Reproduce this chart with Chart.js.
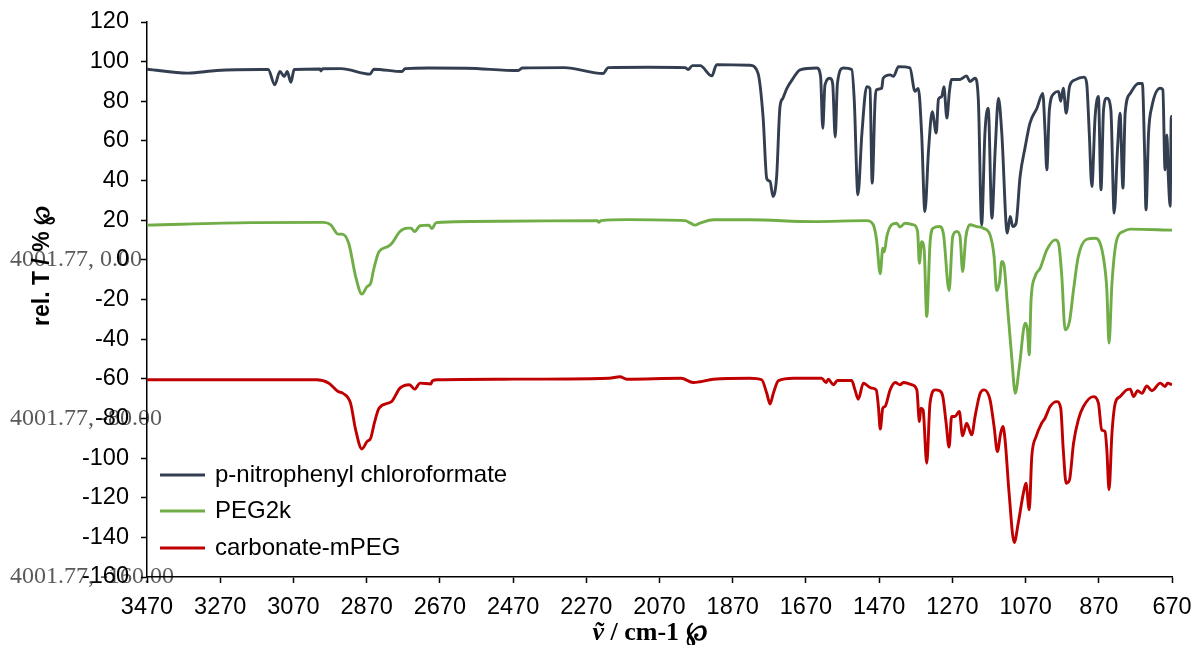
<!DOCTYPE html>
<html>
<head>
<meta charset="utf-8">
<script src="https://cdn.jsdelivr.net/npm/chart.js@4"></script>
<style>
html,body{margin:0;padding:0;background:#fff;}
</style>
</head>
<body>
<canvas id="myChart" width="1193" height="645"></canvas>
<script>
// 系列名稱與顏色
var seriesNames = ["p-nitrophenyl chloroformate", "PEG2k", "carbonate-mPEG"];
var seriesColors = ["#333f50", "#70ad47", "#c00000"];

// x 軸刻度 (cm-1)，y 軸範圍
var xTickValues = [3470, 3270, 3070, 2870, 2670, 2470, 2270, 2070, 1870, 1670, 1470, 1270, 1070, 870, 670];
var yMin = -160, yMax = 120, yStep = 20;

// 圖上殘留的資料標籤 (4001.77, ...)
var strayX = 4001.77;
var strayY = [0, -80, -160];

// p-nitrophenyl chloroformate
var navyWn = [3470,3358,3280,3160,3139,3121,3107,3095,3087,3077,3068,2997,2995,2990,2940,2861,2850,2773,2765,2700,2598,2456,2445,2330,2224,2210,2100,2000,1992,1980,1959,1927,1914,1823,1801,1787,1777,1768,1760,1750,1741,1733,1722,1705,1686,1640,1630,1624,1618,1604,1597,1590,1584,1568,1545,1538,1528,1517,1504,1495,1489,1481,1477,1463,1459,1440,1431,1417,1386,1372,1363,1354,1345,1335,1325,1314,1308,1299,1293,1285,1278,1272,1249,1231,1222,1208,1199,1190,1181,1172,1162,1153,1144,1135,1120,1112,1105,1096,1085,1071,1058,1039,1023,1017,1012,1005,992,980,974,967,959,950,935,910,903,896,889,880,871,864,857,848,837,828,819,812,804,798,784,762,751,745,741,734,725,702,695,689,684,680,675,672,670];
var navyT = [96.2,94.2,95.5,96,96,88.3,95,92.5,95,89.6,96,96.3,95.3,96.4,96.5,93.7,96.2,95,96.5,96.8,96.7,95.5,96.8,97,94,97,97.2,97,96,98,98,92.8,98.5,98.2,94.2,72,41,39.6,32,42,77,81.5,86.5,91.6,95.9,96.8,92.6,66.4,88.3,91.6,89,62,89,96.8,96,80.7,32.8,64,87.4,86.5,38.7,80.7,85.8,86.6,91.6,93.3,92.6,97.5,96.8,85,86.5,64,24.4,55.5,74.8,64,81,82.4,87.4,71.5,85,91,91,92.8,90,91.6,80.7,17.7,64,76.5,21,55.5,81.6,64,13.5,21.9,16.8,18.5,42,57,69,76.5,84,65.6,45.4,75.7,84,85,80,86.6,74,87.4,90.8,92.2,89,64,37,72.3,82.4,35.3,75.7,81.6,75.7,23.6,55.5,74,36.2,74,84,89,89,55.5,25.2,64,77.3,86.6,85.8,45.4,63,42,27,72.3,72];

// PEG2k
var greenWn = [3470,3183,2988,2968,2948,2937,2919,2900,2883,2869,2859,2851,2836,2812,2801,2779,2758,2749,2739,2724,2700,2692,2680,2500,2240,2236,2230,2159,2000,1985,1973,1959,1923,1823,1650,1504,1486,1477,1467,1460,1456,1449,1436,1422,1413,1399,1376,1365,1360,1354,1347,1340,1331,1322,1305,1294,1279,1269,1258,1249,1242,1233,1222,1203,1185,1167,1156,1149,1141,1135,1129,1120,1108,1098,1087,1071,1065,1060,1055,1044,1030,1012,989,980,971,962,950,939,926,903,880,871,857,848,842,834,821,803,784,670];
var greenT = [17.5,18.8,18.9,17.7,13,13,8.4,-8.4,-17.3,-13.5,-11.8,-5,4.2,6.7,8.4,14.3,16,16,14.3,17.2,17.5,15.8,18.8,19.5,19.8,19,19.8,20.3,19.8,18.5,17.5,18.5,20.2,20.2,19.3,19.8,17.7,10,-7,5.9,4,11.8,17.7,18.5,16.5,18.5,17.7,14.3,-1.7,9.2,5,-28.6,8.4,16,16.8,12.6,-15.5,11.8,14.3,11.8,-5.9,11.8,17.7,16.8,16,12.6,1.7,-15.5,-11,-0.8,-2.5,-21.9,-48.8,-67.3,-53.8,-32,-35,-47.9,-20.2,-8.4,-4.2,5,10.1,8.4,-8.4,-35.3,-31.1,-15.1,1.7,10.4,10.9,10.1,0.8,-15.1,-42,-11.8,10.1,14.3,15.5,15];

// carbonate-mPEG
var redWn = [3470,3183,3007,2973,2948,2935,2914,2900,2883,2869,2859,2849,2836,2802,2779,2753,2739,2724,2695,2690,2675,2500,2208,2178,2159,2011,1978,1959,1923,1823,1791,1777,1768,1759,1745,1704,1627,1615,1609,1595,1584,1545,1536,1527,1513,1499,1490,1478,1472,1467,1460,1454,1440,1426,1413,1404,1381,1367,1360,1356,1350,1340,1331,1317,1305,1296,1287,1279,1272,1263,1251,1242,1231,1217,1208,1194,1183,1167,1156,1147,1138,1132,1126,1115,1101,1090,1076,1069,1060,1053,1041,1026,1017,1003,985,974,967,959,950,939,926,912,885,871,862,853,848,842,834,825,812,794,784,775,764,752,739,725,702,689,682,670];
var redT = [-60.5,-60.5,-60.5,-62.2,-66.4,-67.3,-72.3,-85.8,-95.4,-91.7,-90,-82.4,-74.8,-71.5,-64.7,-63,-65.2,-62.2,-62.6,-61,-60.5,-60.2,-59.7,-59,-60.2,-59.7,-61.9,-61.5,-60.2,-59.7,-60.5,-67.3,-72.7,-67.3,-60.9,-59.7,-59.7,-61.9,-60.2,-63,-60.9,-60.9,-65.6,-70.3,-62.2,-63.9,-64.7,-65.6,-74,-85.4,-74.8,-74,-65.6,-61.9,-63,-61.9,-63,-65.6,-81.6,-74.8,-75.7,-102.6,-72.3,-65.6,-66,-69,-82.4,-94.5,-79,-79,-76.5,-88.8,-82.4,-88.3,-79,-67.3,-65.6,-70.6,-84.1,-96.7,-87.4,-84.1,-90.8,-117.7,-142.6,-132.8,-117.7,-112.7,-126.1,-99.2,-89.1,-82.4,-79.9,-74,-71.5,-74.8,-95.9,-112.7,-111,-92.5,-80.7,-74,-69,-72.3,-85.8,-86.6,-95.9,-116,-87.4,-72.3,-69,-65.6,-65.2,-69,-66,-67.3,-63.6,-66,-62.2,-63.9,-62.2,-63];

function toPoints(wn, t) {
  var pts = [];
  for (let i = 0; i < wn.length; i++) {
    pts.push({x: wn[i], y: t[i]});
  }
  return pts;
}

var allWn = [navyWn, greenWn, redWn];
var allT = [navyT, greenT, redT];

var datasets = [];
for (let i = 0; i < seriesNames.length; i++) {
  datasets.push({
    label: seriesNames[i],
    data: toPoints(allWn[i], allT[i]),
    borderColor: seriesColors[i],
    backgroundColor: seriesColors[i],
    borderWidth: 2.9,
    pointRadius: 0,
    fill: false,
    cubicInterpolationMode: 'monotone'
  });
}

var sansFont = "'Liberation Sans', Arial, sans-serif";
var serifFont = "'Liberation Serif', 'DejaVu Serif', 'Times New Roman', serif";

// 殘留標籤、圖例、軸標題
var extrasPlugin = {
  id: 'extras',
  beforeDraw: function(chart) {
    var ctx = chart.ctx;
    var yScale = chart.scales.y;
    ctx.save();
    ctx.font = '24px ' + serifFont;
    ctx.fillStyle = '#595959';
    ctx.textAlign = 'left';
    ctx.textBaseline = 'middle';
    for (let i = 0; i < strayY.length; i++) {
      ctx.fillText(strayX.toFixed(2) + ', ' + strayY[i].toFixed(2), 10, yScale.getPixelForValue(strayY[i]));
    }
    ctx.restore();
  },
  afterDraw: function(chart) {
    var ctx = chart.ctx;
    ctx.save();
    // 圖例
    ctx.font = '24px ' + sansFont;
    ctx.textAlign = 'left';
    ctx.textBaseline = 'middle';
    var rowY = [475, 511, 548];
    for (let i = 0; i < seriesNames.length; i++) {
      ctx.strokeStyle = seriesColors[i];
      ctx.lineWidth = 3;
      ctx.beginPath();
      ctx.moveTo(160, rowY[i]);
      ctx.lineTo(205, rowY[i]);
      ctx.stroke();
      ctx.fillStyle = '#000';
      ctx.fillText(seriesNames[i], 215, rowY[i]);
    }
    // y 軸標題
    ctx.save();
    ctx.translate(43, 266);
    ctx.rotate(-Math.PI / 2);
    ctx.font = 'bold 23px ' + sansFont;
    ctx.textAlign = 'center';
    ctx.fillText('rel. T / % \u2118', 0, 0);
    ctx.restore();
    // x 軸標題
    var part1 = '\u1E7D';
    var part2 = ' / cm-1 \u2118';
    ctx.font = 'bold italic 26px ' + serifFont;
    var w1 = ctx.measureText(part1).width;
    ctx.font = 'bold 26px ' + serifFont;
    var w2 = ctx.measureText(part2).width;
    var startX = 650 - (w1 + w2) / 2;
    ctx.textAlign = 'left';
    ctx.textBaseline = 'middle';
    ctx.font = 'bold italic 26px ' + serifFont;
    ctx.fillText(part1, startX, 633);
    ctx.font = 'bold 26px ' + serifFont;
    ctx.fillText(part2, startX + w1, 633);
    ctx.restore();
  }
};

var myChart;
function render() {
  var canvas = document.getElementById('myChart').getContext('2d');
  myChart = new Chart(canvas, {
    type: 'line',
    data: { datasets: datasets },
    options: {
      responsive: false,
      animation: false,
      devicePixelRatio: 1,
      layout: { padding: { top: 22, right: 21, left: 0, bottom: 0 } },
      plugins: {
        legend: { display: false },
        tooltip: { enabled: false }
      },
      scales: {
        x: {
          type: 'linear',
          reverse: true,
          min: 670,
          max: 3470,
          afterBuildTicks: function(scale) {
            scale.ticks = xTickValues.map(function(v) { return {value: v}; });
          },
          afterFit: function(scale) {
            scale.height = 68;
            scale.paddingLeft = 0;
            scale.paddingRight = 0;
          },
          ticks: {
            autoSkip: false,
            maxRotation: 0,
            padding: 10,
            color: '#000',
            font: { family: sansFont, size: 23.5 },
            callback: function(v) { return String(v); }
          },
          grid: { drawOnChartArea: false, tickLength: 6, tickColor: '#000', tickWidth: 1.5 },
          border: { color: '#000', width: 1.5 }
        },
        y: {
          min: yMin,
          max: yMax,
          afterFit: function(scale) {
            scale.width = 147;
            scale.paddingTop = 0;
            scale.paddingBottom = 0;
          },
          ticks: {
            stepSize: yStep,
            padding: 12,
            color: '#000',
            font: { family: sansFont, size: 23.5 },
            callback: function(v) { return String(v); }
          },
          grid: { drawOnChartArea: false, tickLength: 6, tickColor: '#000', tickWidth: 1.5 },
          border: { color: '#000', width: 1.5 }
        }
      }
    },
    plugins: [extrasPlugin]
  });
}
render();
</script>
</body>
</html>
